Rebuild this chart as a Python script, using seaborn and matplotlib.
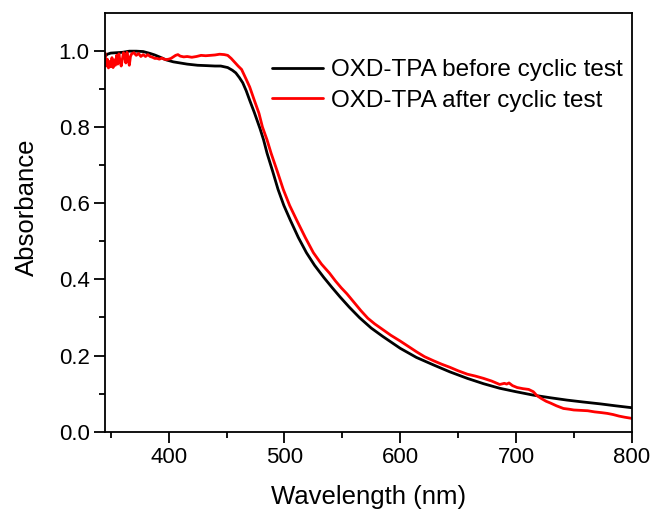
import numpy as np
import pandas as pd
import matplotlib
matplotlib.use("Agg")
import matplotlib.pyplot as plt
from matplotlib.ticker import MultipleLocator
import seaborn as sns

# ---- data ----
before_wl = [345, 347, 350, 355, 360, 366, 372, 378, 384, 388, 392, 398, 404, 410, 416,
             425, 433, 440, 445, 451, 455, 458, 461, 464, 467, 470, 474, 479, 482, 485,
             490, 494.5, 499.5, 505, 512, 519, 526, 534, 541, 548, 556, 565, 575, 585, 600,
             614, 629, 643, 658, 672, 686, 700, 715, 730, 744, 758, 773, 786, 800]
before_abs = [0.985, 0.991, 0.994, 0.995, 0.996, 0.999, 0.999, 0.998, 0.993, 0.989, 0.984, 0.976, 0.971, 0.968, 0.965,
              0.962, 0.961, 0.960, 0.960, 0.956, 0.949, 0.942, 0.930, 0.916, 0.895, 0.870, 0.838, 0.795, 0.766, 0.731,
              0.682, 0.636, 0.594, 0.556, 0.510, 0.470, 0.437, 0.405, 0.379, 0.354, 0.327, 0.299, 0.272, 0.250, 0.219,
              0.195, 0.175, 0.157, 0.140, 0.126, 0.114, 0.105, 0.096, 0.089, 0.083, 0.078, 0.073, 0.068, 0.063]

after_wl = [345, 346, 347, 348, 349, 350, 351, 352, 353, 354, 355, 356, 357, 358, 359, 360,
            361, 362, 363, 364, 365, 366, 367, 368, 370, 372, 374, 376, 378, 380, 382, 384,
            386, 388, 390, 392, 394, 396, 398, 400, 402, 404, 406, 408, 410, 413, 416, 420,
            424, 428, 432, 436, 440, 444, 448, 451, 454, 457, 460, 463, 467, 470, 474, 478,
            481, 485, 488.5, 494, 499, 504.5, 510.5, 518, 525, 532, 539, 544,
            549, 554, 560, 566, 572, 578, 585, 592, 600, 607, 614, 621, 629, 636, 643, 650,
            658, 665, 672, 679, 686, 690, 692, 694, 697, 701, 706, 711, 715, 718, 722, 726,
            730, 735, 741, 746, 750, 756, 762, 768, 774, 779, 784, 789, 794, 800]
after_abs = [0.995, 0.960, 0.978, 0.955, 0.972, 0.958, 0.982, 0.956, 0.976, 0.962, 0.988, 0.965, 0.992, 0.972, 0.960, 0.978,
             0.995, 0.985, 0.968, 0.996, 0.978, 0.962, 0.985, 0.992, 0.995, 0.988, 0.993, 0.985, 0.990, 0.985, 0.990, 0.985,
             0.983, 0.980, 0.980, 0.978, 0.981, 0.978, 0.977, 0.978, 0.980, 0.984, 0.988, 0.990, 0.986, 0.984, 0.985, 0.983,
             0.985, 0.988, 0.987, 0.988, 0.989, 0.991, 0.990, 0.988, 0.980, 0.970, 0.960, 0.951, 0.925, 0.905, 0.870, 0.836,
             0.800, 0.766, 0.731, 0.682, 0.636, 0.594, 0.556, 0.510, 0.470, 0.440, 0.416, 0.396,
             0.378, 0.362, 0.340, 0.318, 0.298, 0.283, 0.268, 0.253, 0.238, 0.224, 0.210, 0.197, 0.186, 0.177, 0.169, 0.160,
             0.151, 0.146, 0.140, 0.133, 0.124, 0.127, 0.125, 0.128, 0.121, 0.116, 0.113, 0.111, 0.105, 0.095, 0.087, 0.080,
             0.075, 0.068, 0.061, 0.059, 0.057, 0.056, 0.055, 0.052, 0.050, 0.048, 0.045, 0.041, 0.038, 0.035]

series_names = ["OXD-TPA before cyclic test", "OXD-TPA after cyclic test"]
series_colors = ["#000000", "#ff0000"]
x_ticks = [400, 500, 600, 700, 800]
y_ticks = [0.0, 0.2, 0.4, 0.6, 0.8, 1.0]

df = pd.concat([
    pd.DataFrame({"Wavelength": before_wl, "Absorbance": before_abs, "series": series_names[0]}),
    pd.DataFrame({"Wavelength": after_wl, "Absorbance": after_abs, "series": series_names[1]}),
], ignore_index=True)

sns.set_theme(style="ticks")
plt.rcParams["font.family"] = ["Liberation Sans", "DejaVu Sans"]
plt.rcParams["text.color"] = "black"

fig = plt.figure(figsize=(6.55, 5.11), dpi=100)
ax = fig.add_axes([105 / 655, 1 - 431.7 / 511, 526.7 / 655, 419 / 511])

sns.lineplot(data=df, x="Wavelength", y="Absorbance", hue="series",
             palette=dict(zip(series_names, series_colors)), hue_order=series_names,
             estimator=None, sort=False, linewidth=2.0, ax=ax)

ax.set_xlim(345, 800)
ax.set_ylim(0, 1.1)
ax.set_xticks(x_ticks)
ax.set_yticks(y_ticks)
ax.set_yticklabels([f"{v:.1f}" for v in y_ticks])
ax.xaxis.set_minor_locator(MultipleLocator(50))
ax.set_yticks([0.1, 0.3, 0.5, 0.7, 0.9], minor=True)

for s in ax.spines.values():
    s.set_visible(True)
    s.set_linewidth(1.3)
    s.set_color("black")

ax.tick_params(which="major", direction="out", length=8, width=1.3, labelsize=16,
               colors="black", pad=3, top=False, right=False)
ax.tick_params(which="minor", direction="out", length=4.5, width=1.3,
               top=False, right=False, color="black")

ax.set_xlabel("Wavelength (nm)", fontsize=18.5, labelpad=12, color="black")
ax.set_ylabel("Absorbance", fontsize=18.5, color="black")
ax.yaxis.set_label_coords(-0.125, 0.535)

leg = ax.legend(loc="upper right", frameon=False, fontsize=17.5, handlelength=2.1,
                handletextpad=0.3, labelspacing=0.35, borderaxespad=0.4,
                bbox_to_anchor=(1.019, 0.935))
for line in leg.get_lines():
    line.set_linewidth(2.0)
for t in leg.get_texts():
    t.set_color("black")

fig.savefig("out.png", dpi=100)
